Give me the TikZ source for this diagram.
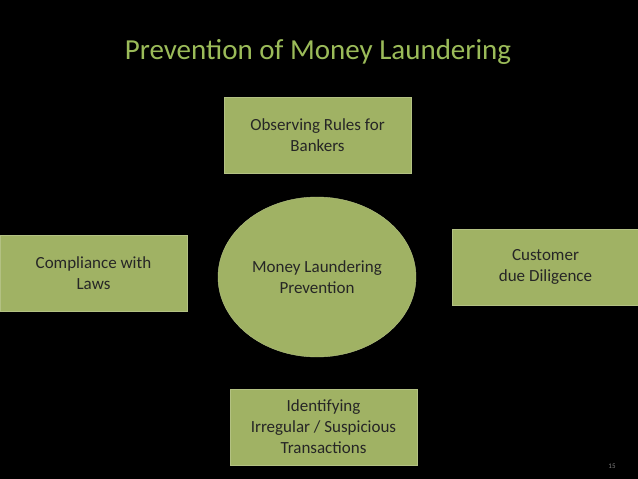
\documentclass[tikz,border=0pt]{standalone}
\usepackage{fontspec}
\setmainfont{Carlito}
\usetikzlibrary{positioning,shapes.geometric}
\definecolor{boxgreen}{RGB}{160,178,100}
\definecolor{titlegreen}{RGB}{155,187,89}
\begin{document}
\begin{tikzpicture}
  [x=1pt,y=-1pt,
  topic/.style={rectangle, fill=boxgreen, draw=boxgreen!80!white,
    minimum width=187pt, minimum height=76pt, align=center,
    font=\fontsize{17}{21}\selectfont, text=black!85},
  hub/.style={ellipse, fill=boxgreen, draw=boxgreen!80!white,
    minimum width=198pt, minimum height=160pt, align=center,
    font=\fontsize{17}{21}\selectfont, text=black!85}]
  \fill[black] (0,0) rectangle (638,479);
  \useasboundingbox (0,0) rectangle (638,479);
  \node[text=titlegreen, font=\fontsize{29}{34}\selectfont] (title) at (318,52)
    {Prevention of Money Laundering};
  \node[hub] (center) at (317,277) {Money Laundering\\Prevention};
  \node[topic] (rules) at (317.5,135) {Observing Rules for\\Bankers};
  \node[topic] (laws) at (93.5,273) {Compliance with\\Laws};
  \node[topic] (cdd) at (545.5,267) {Customer\\due Diligence};
  \node[topic] (irregular) at (323.5,427) {Identifying\\Irregular / Suspicious\\Transactions};
  \node[text=gray, font=\fontsize{7}{8}\selectfont] (page) at (612,466) {15};
\end{tikzpicture}
\end{document}
